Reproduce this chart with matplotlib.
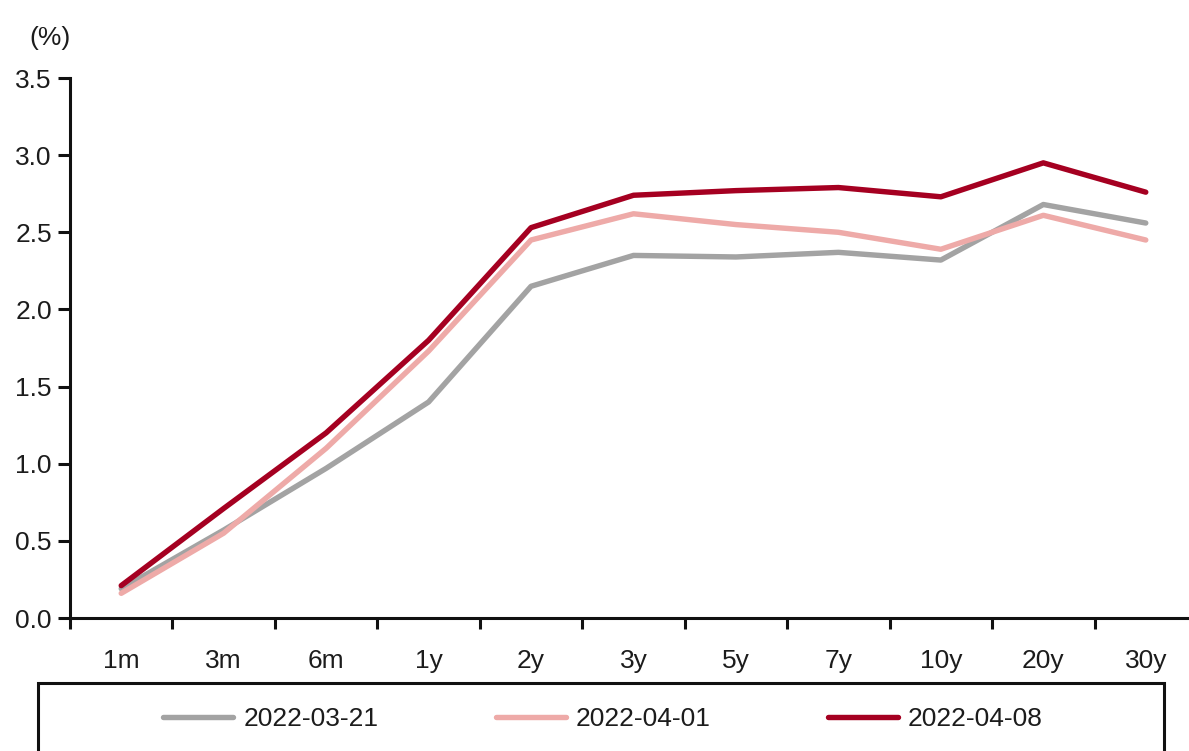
import matplotlib
matplotlib.use('Agg')
import matplotlib.pyplot as plt
from matplotlib.patches import Rectangle

# Datos de la curva de rendimientos
tenors = ['1m', '3m', '6m', '1y', '2y', '3y', '5y', '7y', '10y', '20y', '30y']
y_0321 = [0.19, 0.57, 0.97, 1.40, 2.15, 2.35, 2.34, 2.37, 2.32, 2.68, 2.56]
y_0401 = [0.16, 0.55, 1.10, 1.73, 2.45, 2.62, 2.55, 2.50, 2.39, 2.61, 2.45]
y_0408 = [0.21, 0.71, 1.20, 1.80, 2.53, 2.74, 2.77, 2.79, 2.73, 2.95, 2.76]
labels = ['2022-03-21', '2022-04-01', '2022-04-08']
colors = ['#a3a3a3', '#eeaaa8', '#a50021']

plt.rcParams['font.family'] = ['Liberation Sans', 'DejaVu Sans']
txt = '#1c1c1c'

W, H = 1189, 751
fig = plt.figure(figsize=(W / 100, H / 100), dpi=100)
ax = fig.add_axes([70 / W, 1 - 618 / H, 1127 / W, 540 / H])

x = list(range(len(tenors)))
lines = []
for ys, lab, c in zip([y_0321, y_0401, y_0408], labels, colors):
    ln, = ax.plot(x, ys, color=c, lw=3.9, label=lab, solid_capstyle='round',
                  solid_joinstyle='round')
    lines.append(ln)

ax.set_xlim(-0.5, len(tenors) - 0.5)
ax.set_ylim(0, 3.5)
ax.set_yticks([0, 0.5, 1.0, 1.5, 2.0, 2.5, 3.0, 3.5])
ax.set_yticklabels(['%.1f' % v for v in ax.get_yticks()])
ax.set_xticks(x)
ax.set_xticklabels(tenors)
ax.set_xticks([i - 0.5 for i in range(len(tenors) + 1)], minor=True)

for s in ['top', 'right']:
    ax.spines[s].set_visible(False)
for s in ['left', 'bottom']:
    ax.spines[s].set_linewidth(2.2)
    ax.spines[s].set_color('#111111')

ax.tick_params(axis='y', direction='out', length=9, width=2.2, labelsize=19,
               colors='#111111', labelcolor=txt, pad=4)
ax.tick_params(axis='x', which='major', length=0, labelsize=19, labelcolor=txt, pad=22)
ax.tick_params(axis='x', which='minor', direction='out', length=8, width=2.2,
               colors='#111111')

fig.text(50 / W, 1 - 38 / H, '(%)', fontsize=19, color=txt, ha='center', va='center')

# Caja de la leyenda
fig.patches.append(Rectangle((38 / W, -0.05), (1164 - 38) / W, 0.05 + (751 - 683) / H,
                             transform=fig.transFigure, fill=False,
                             edgecolor='#111111', lw=2.2))
fig.legend(lines, labels, loc='center left', bbox_to_anchor=(150 / W, 1 - 719 / H),
           ncol=3, frameon=False, fontsize=19, handlelength=2.65, handletextpad=0.38,
           columnspacing=4.45, labelcolor=txt, borderpad=0)

fig.savefig('out.png', dpi=100)
